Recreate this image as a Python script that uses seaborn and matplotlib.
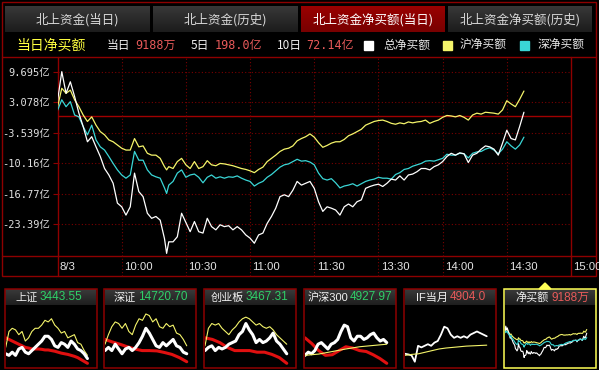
import numpy as np
import pandas as pd
import matplotlib
matplotlib.use('Agg')
import matplotlib.pyplot as plt
import matplotlib.transforms as mtrans
from matplotlib.patches import Rectangle, Polygon
from matplotlib.colors import LinearSegmentedColormap
import seaborn as sns

# ---------------- data ----------------
minutes = list(range(0, 51, 2)) + [51] + list(range(52, 219, 2))
total_net = [3.3, 9.7, 5.0, 7.5, 4.3, 0.7, -2.2, -5.5, -4.4, -6.6,
             -8.7, -11.3, -12.7, -14.5, -18.8, -19.6, -21.4, -19.6, -12.3, -16.3,
             -17.4, -21.0, -22.1, -21.7, -22.5, -26.5,
             -29.7,
             -27.2, -27.2, -26.1, -21.0, -23.0, -25.0, -22.8, -25.0, -25.3, -22.1,
             -23.9, -24.6, -23.5, -23.9, -23.7, -24.6, -23.9, -24.6, -25.7, -26.4,
             -27.5, -25.7, -25.3, -23.2, -21.7, -19.9, -17.4, -17.0, -17.4, -16.0,
             -14.1, -14.9, -14.5, -14.1, -15.6, -18.5, -20.6, -19.6, -19.9, -20.3,
             -21.4, -19.6, -19.0, -19.6, -18.5, -18.1, -15.6, -15.2, -14.9, -14.7,
             -15.2, -14.5, -13.6, -13.8, -12.9, -13.8, -12.7, -12.5, -12.0, -11.3,
             -11.3, -11.6, -10.9, -10.5, -9.8, -8.7, -8.0, -8.4, -7.9, -8.1,
             -10.0, -8.4, -8.0, -7.1, -6.4, -6.6, -7.1, -8.4, -5.8, -3.0,
             -4.8, -5.1, -2.2, 0.9]
sh_net = [2.0, 6.1, 5.0, 5.7, 3.6, 2.1, 0.3, -1.1, -0.1, -1.9,
          -3.3, -4.0, -5.1, -5.5, -6.2, -6.9, -7.3, -7.3, -4.8, -6.6,
          -6.4, -8.0, -8.4, -8.4, -9.1, -10.9,
          -11.6,
          -10.9, -11.3, -9.8, -9.1, -10.5, -11.3, -9.8, -11.3, -10.9, -9.6,
          -10.5, -10.7, -10.2, -10.3, -10.5, -10.7, -11.0, -11.3, -11.5, -11.8,
          -12.2, -11.5, -11.0, -9.8, -9.1, -8.4, -7.6, -7.1, -6.9, -6.4,
          -5.3, -4.8, -4.4, -3.8, -4.5, -5.7, -6.7, -6.3, -5.8, -5.5,
          -5.5, -5.0, -4.2, -3.8, -3.3, -2.8, -1.9, -1.5, -1.1, -0.9,
          -0.8, -1.1, -1.5, -1.7, -1.4, -1.6, -1.2, -1.4, -1.2, -1.1,
          -0.8, -1.5, -1.1, -0.8, -0.2, 0.2, 0.1, -0.1, 0.2, -0.2,
          -0.8, 0.3, 0.7, 0.5, 0.9, 0.8, 0.7, 0.5, 1.4, 3.4,
          2.7, 2.1, 3.7, 5.5]
sz_net = [1.3, 3.6, 2.1, 3.2, 0.3, -0.1, -2.2, -4.0, -1.9, -5.1,
          -6.6, -7.3, -8.7, -10.2, -11.6, -12.7, -13.4, -12.7, -7.6, -9.5,
          -9.5, -11.6, -12.7, -13.1, -13.4, -15.5,
          -16.7,
          -14.9, -14.1, -12.3, -11.6, -13.2, -12.7, -12.5, -13.2, -14.4, -13.2,
          -12.7, -13.4, -13.1, -13.4, -13.1, -13.2, -12.9, -13.4, -13.8, -14.1,
          -15.1, -14.5, -14.1, -13.2, -12.6, -11.8, -11.0, -10.5, -10.3, -9.8,
          -9.3, -9.7, -9.6, -9.9, -10.5, -12.3, -13.5, -13.8, -13.5, -14.4,
          -15.5, -15.1, -14.9, -14.6, -15.1, -14.6, -14.1, -13.8, -13.6, -13.2,
          -13.4, -13.4, -13.6, -12.6, -12.2, -11.5, -11.3, -10.8, -10.5, -10.2,
          -9.7, -9.6, -9.7, -9.4, -9.1, -8.2, -8.4, -8.4, -8.0, -8.1,
          -9.0, -8.0, -7.7, -7.6, -7.1, -6.8, -7.3, -8.1, -7.1, -5.5,
          -6.4, -7.1, -6.2, -4.5]

y_ticks = [9.695, 3.078, -3.539, -10.16, -16.77, -23.39]
y_tick_labels = ['9.695亿', '3.078亿', '-3.539亿', '-10.16亿', '-16.77亿', '-23.39亿']
x_ticks = [0, 30, 60, 90, 120, 150, 180, 210, 240]
x_tick_labels = ['8/3', '10:00', '10:30', '11:00', '11:30', '13:30', '14:00', '14:30', '15:00']

tabs = ['北上资金(当日)', '北上资金(历史)', '北上资金净买额(当日)', '北上资金净买额(历史)']
summary_labels = ['当日', '5日', '10日']
summary_values = ['9188万', '198.0亿', '72.14亿']
legend_labels = ['总净买额', '沪净买额', '深净买额']

mini_titles = ['上证', '深证', '创业板', '沪深300', 'IF当月', '净买额']
mini_values = ['3443.55', '14720.70', '3467.31', '4927.97', '4904.0', '9188万']

# mini charts (relative height in panel, 0 = bottom)
sh_idx_yellow = [30, 55, 60, 57.5, 50, 55, 40, 45, 55, 60, 60, 65, 72.5, 70, 75, 65, 60, 52.5, 55, 45, 47.5, 50, 37.5, 35, 25, 17.5]
sh_idx_white = [20, 17.5, 22.5, 17.5, 27.5, 30, 22.5, 20, 25, 30, 35, 40, 47.5, 47.5, 42.5, 32.5, 30, 37.5, 35, 30, 40, 35, 27.5, 25, 20, 12.5]
sh_idx_red = [45, 42.5, 40, 37.5, 35, 32.5, 30, 29, 27.5, 27.5, 27.5, 27, 26, 26, 25, 24, 22.5, 21, 20, 19, 17.5, 16, 14, 11, 8, 5]

sz_idx_yellow = [35, 50, 62.5, 70, 67.5, 60, 67.5, 55, 50, 65, 75, 72.5, 82.5, 80, 70, 75, 62.5, 60, 67.5, 62.5, 65, 52.5, 50, 42.5, 32.5]
sz_idx_white = [25, 30, 25, 35, 27.5, 20, 27.5, 30, 25, 30, 37.5, 47.5, 60, 52.5, 42.5, 32.5, 30, 37.5, 32.5, 37.5, 42.5, 32.5, 30, 22.5, 20]
sz_idx_red = [42.5, 38.5, 35, 31, 27.5, 25, 25, 24.5, 22, 19, 14, 7.5]

cyb_yellow = [32.5, 60, 67.5, 65, 67.5, 60, 55, 50, 57.5, 62.5, 70, 75, 77.5, 75, 70, 65, 67.5, 62.5, 60, 62.5, 57.5, 50, 45, 40, 35]
cyb_white = [25, 30, 32.5, 25, 30, 27.5, 30, 35, 37.5, 40, 50, 55, 67.5, 57.5, 50, 37.5, 42.5, 37.5, 40, 45, 52.5, 40, 35, 27.5, 20]
cyb_red = [45, 42.5, 37.5, 30, 25, 25, 25, 22.5, 22.5, 19, 14, 5]

hs300_red = [45, 36, 25, 17.5, 18.5, 25, 31, 29, 25, 23.5, 18.5, 12.5, 5]
hs300_white = [17.5, 22.5, 20, 25, 35, 37.5, 32.5, 27.5, 35, 37.5, 42.5, 55, 65, 62.5, 45, 40, 47.5, 47.5, 42.5, 45, 50, 52.5, 45, 40, 42.5, 37.5]
hs300_yellow = [17.5, 19.5, 23.5, 27.5, 31, 33, 35]

if_white = [20, 19, 17.5, 7.5, 32.5, 30, 32.5, 35, 32.5, 37.5, 40, 50, 62.5, 60, 50, 45, 47.5, 45, 47.5, 45, 50, 52.5, 55, 52.5, 50, 47.5]
if_yellow = [17.5, 19, 20, 22.5, 25, 27.5, 29, 30, 31, 32, 32.5, 33, 33.5]

# ---------------- style ----------------
sns.set_theme(style='dark', rc={'axes.facecolor': 'black', 'figure.facecolor': 'black'})
plt.rcParams['font.family'] = ['Noto Sans CJK SC', 'DejaVu Sans']
MONO = ['DejaVu Sans Mono', 'Noto Sans CJK SC']
ARIAL = ['Liberation Sans', 'Noto Sans CJK SC']

RED = '#8e0000'
GRID = '#7a0000'
WHITE = '#ffffff'
YELLOW = '#f4f46a'
CYAN = '#3ad6d6'
SALMON = '#e85a5a'
GREEN = '#2fd068'

W, H = 599, 370
fig = plt.figure(figsize=(W / 100, H / 100), dpi=100, facecolor='black')


def frect(x0, y0, x1, y1):
    return [x0 / W, 1 - y1 / H, (x1 - x0) / W, (y1 - y0) / H]


bg = fig.add_axes([0, 0, 1, 1])
bg.axis('off')


def gradient(x0, y0, x1, y1, ctop, cbot, z=1):
    cm = LinearSegmentedColormap.from_list('g', [ctop, cbot])
    bg.imshow(np.linspace(0, 1, 64).reshape(-1, 1), extent=(x0, x1, y1, y0), cmap=cm,
              aspect='auto', origin='upper', zorder=z, interpolation='bilinear')


# tabs
tab_x = [(5, 150), (153, 298), (301, 445), (448, 592)]
for i, ((x0, x1), t) in enumerate(zip(tab_x, tabs)):
    if i == 2:
        gradient(x0, 6, x1, 32, '#9a0000', '#780000')
        col = '#ffffff'
    else:
        gradient(x0, 6, x1, 32, '#383838', '#1c1c1c')
        col = '#d8d8d8'
    bg.text((x0 + x1) / 2, 19.5, t, color=col, fontsize=9, ha='center', va='center', zorder=3)

# structural frame
bg.add_patch(Rectangle((2, 2), 594, 274, fill=False, ec=RED, lw=1.0, zorder=2))
for yy in (57, 256):
    bg.plot([2, 596], [yy, yy], color=RED, lw=1.0, zorder=2)
for xx in (57.5, 571):
    bg.plot([xx, xx], [57, 276], color=RED, lw=1.0, zorder=2)

# summary row
ty = 45.5
bg.text(16, ty, '当日净买额', color='#ffff40', fontsize=10, ha='left', va='center')
lab_x = [107, 191, 277]
val_x = [135, 215, 306]
for lx, vx, l, v in zip(lab_x, val_x, summary_labels, summary_values):
    bg.text(lx, ty, l, color='#f0f0f0', fontsize=8.5, ha='left', va='center')
    bg.text(vx, ty, v, color=SALMON, fontsize=8.5, ha='left', va='center', family=MONO)
sq_x = [363.5, 442.5, 520]
txt_x = [383, 460, 538]
for sx, tx, lab, c in zip(sq_x, txt_x, legend_labels, [WHITE, YELLOW, CYAN]):
    bg.add_patch(Rectangle((sx, ty - 4.5), 9, 9, color=c, zorder=3))
    bg.text(tx, ty, lab, color='#e8e8e8', fontsize=8.5, ha='left', va='center')

# ---------------- main chart ----------------
ax = fig.add_axes(frect(57.5, 57, 571, 256))
ax.set_facecolor('none')
df = pd.DataFrame({'minute': minutes, 'total': total_net, 'sh': sh_net, 'sz': sz_net})

for t in y_ticks:
    ax.axhline(t, color=GRID, lw=0.8, ls=(0, (1, 2)), zorder=1)
ax.axhline(0, color='#a00000', lw=1.0, zorder=1)
for t in x_ticks[1:-1]:
    ax.axvline(t, ymin=-20 / 199, ymax=1, clip_on=False, color=GRID, lw=0.8, ls=(0, (1, 2)), zorder=1)

sns.lineplot(data=df, x='minute', y='sh', ax=ax, color=YELLOW, lw=0.9, legend=False, zorder=3)
sns.lineplot(data=df, x='minute', y='sz', ax=ax, color=CYAN, lw=0.9, legend=False, zorder=3)
sns.lineplot(data=df, x='minute', y='total', ax=ax, color=WHITE, lw=0.9, legend=False, zorder=4)

ax.set_xlim(0, 240)
ax.set_ylim(-30.27, 12.88)
ax.set_xlabel('')
ax.set_ylabel('')
for s in ax.spines.values():
    s.set_visible(False)
ax.grid(False)
ax.set_yticks(y_ticks)
ax.set_yticklabels(y_tick_labels)
ax.tick_params(axis='y', left=True, length=3.6, width=0.8, color=RED, pad=1.5,
               labelsize=7.5, labelcolor='#e0e0e0')
for lbl in ax.get_yticklabels():
    lbl.set_fontfamily(MONO)
ax.set_xticks(x_ticks)
ax.set_xticklabels(x_tick_labels, ha='left')
ax.tick_params(axis='x', bottom=True, length=0, pad=4.5, labelsize=8.2, labelcolor='#e4e4e4')
off = mtrans.ScaledTranslation(2.5 / 100, 0, fig.dpi_scale_trans)
for lbl in ax.get_xticklabels():
    lbl.set_fontfamily(ARIAL)
    lbl.set_transform(lbl.get_transform() + off)

# ---------------- mini panels ----------------
panel_x = [4.7, 104, 204, 304, 404, 504]
split_x = [39, 136.7, 244.7, 349, 449, 550]
mini_series = [
    [(sh_idx_red, '#e01010', 2.2), (sh_idx_yellow, YELLOW, 0.8), (sh_idx_white, WHITE, 2.2)],
    [(sz_idx_red, '#e01010', 2.2), (sz_idx_yellow, YELLOW, 0.8), (sz_idx_white, WHITE, 2.2)],
    [(cyb_red, '#e01010', 2.2), (cyb_yellow, YELLOW, 0.8), (cyb_white, WHITE, 2.2)],
    [(hs300_red, '#e01010', 2.2), (hs300_white, WHITE, 2.2), (hs300_yellow, YELLOW, 0.8)],
    [(if_white, WHITE, 1.3), (if_yellow, YELLOW, 0.8)],
]
for i in range(6):
    x0 = panel_x[i]
    x1 = x0 + 92
    ec = '#ffff55' if i == 5 else RED
    gradient(x0 + 0.5, 289.5, x1 - 0.5, 305, '#3a3a3a', '#1e1e1e')
    bg.add_patch(Rectangle((x0, 289), 92, 78.5, fill=False, ec=ec, lw=1.1, zorder=3))
    bg.text(split_x[i] - 1, 297.5, mini_titles[i], color='#f0f0f0', fontsize=8, ha='right',
            va='center', family=ARIAL, zorder=4)
    vcol = GREEN if i < 4 else SALMON
    bg.text(split_x[i] + 1, 297.5, mini_values[i], color=vcol, fontsize=8.5, ha='left',
            va='center', family=ARIAL, zorder=4)
    mx = fig.add_axes(frect(x0 + 1, 306, x1 - 1, 366.5))
    mx.set_facecolor('none')
    if i < 5:
        for vals, col, lw in mini_series[i]:
            sns.lineplot(x=np.linspace(0, 218, len(vals)), y=vals, ax=mx, color=col, lw=lw,
                         legend=False)
        mx.set_ylim(0, 95)
    else:
        sns.lineplot(data=df, x='minute', y='sh', ax=mx, color=YELLOW, lw=0.8, legend=False)
        sns.lineplot(data=df, x='minute', y='total', ax=mx, color=WHITE, lw=0.8, legend=False)
        sns.lineplot(data=df, x='minute', y='sz', ax=mx, color=CYAN, lw=0.8, legend=False)
        mx.set_ylim(-41, 35)
    mx.set_xlim(0, 240)
    mx.axis('off')

bg.add_patch(Polygon([[539, 289], [551, 289], [545, 283]], closed=True, color='#ffff55', zorder=4))

bg.set_xlim(0, W)
bg.set_ylim(H, 0)

fig.savefig('out.png', dpi=100, facecolor='black')
